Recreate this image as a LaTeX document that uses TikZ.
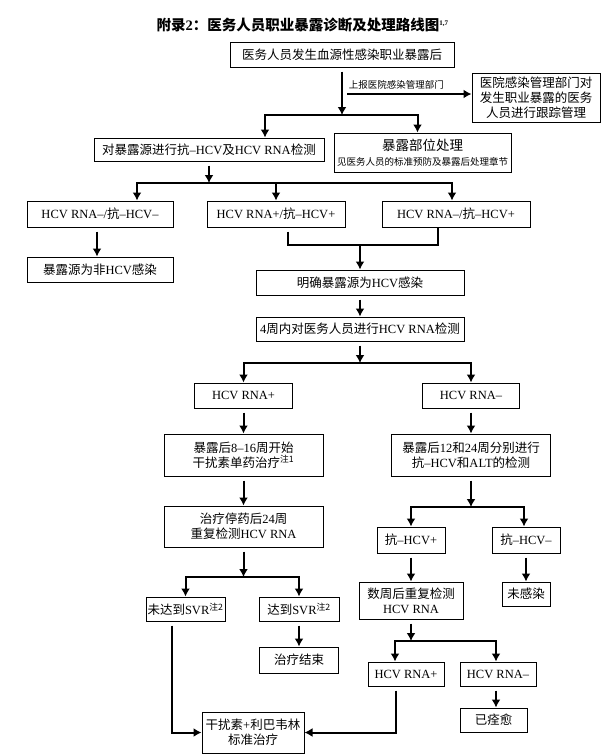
\documentclass[tikz,border=0pt]{standalone}
\usepackage{fontspec}
\setmainfont{Liberation Serif}
\newfontfamily\zh{Noto Sans CJK SC}
\usepackage{tikz}
\usetikzlibrary{arrows.meta}

\begin{document}
\begin{tikzpicture}[x=1pt,y=-1pt,>={Latex[length=8pt,width=9pt]},
    box/.style={draw,line width=1pt,align=center,inner sep=1pt,
      font=\fontsize{12.5}{15}\selectfont},
    wh/.style 2 args={minimum width=#1,minimum height=#2},
    conn/.style={->,line width=2pt},
    outof/.style={conn,shorten <=4pt},
    link/.style={line width=2pt,shorten <=4pt}]
  \useasboundingbox (0,0) rectangle (615,756);
  \node[anchor=west,font=\fontsize{14.5}{16}\selectfont\bfseries] (title) at (153,25)
    {{\zh 附录}2{\zh ：医务人员职业暴露诊断及处理路线图}{\fontsize{7}{8}\selectfont\raisebox{5pt}{1,7}}};
  % source of exposure
  \node[box,wh={224}{25}] (expo) at (342,54.5) {\zh 医务人员发生血源性感染职业暴露后};
  \node[box,wh={128}{49}] (track) at (536,97.5)
    {\zh 医院感染管理部门对\\\zh 发生职业暴露的医务\\\zh 人员进行跟踪管理};
  \node[box,wh={230}{23}] (srctest) at (209,149.5)
    {{\zh 对暴露源进行抗}–HCV{\zh 及}HCV RNA{\zh 检测}};
  \node[box,wh={177}{39}] (site) at (422.5,152.5)
    {{\fontsize{13.5}{15}\selectfont\zh 暴露部位处理}\\{\fontsize{9.5}{11}\selectfont\zh 见医务人员的标准预防及暴露后处理章节}};
  \node[box,wh={146}{26}] (neg) at (100,214) {HCV RNA–/{\zh 抗}–HCV–};
  \node[box,wh={138}{26}] (pos) at (276,214) {HCV RNA+/{\zh 抗}–HCV+};
  \node[box,wh={148}{26}] (negpos) at (456,214) {HCV RNA–/{\zh 抗}–HCV+};
  \node[box,wh={146}{25}] (nonhcv) at (100,269.5) {{\zh 暴露源为非}HCV{\zh 感染}};
  \node[box,wh={208}{25}] (hcv) at (360,282.5) {{\zh 明确暴露源为}HCV{\zh 感染}};
  \node[box,wh={208}{24}] (test4w) at (360,329) {4{\zh 周内对医务人员进行}HCV RNA{\zh 检测}};
  % health care worker
  \node[box,wh={98}{25}] (rpos) at (243.5,395.5) {HCV RNA+};
  \node[box,wh={97}{25}] (rneg) at (471,395.5) {HCV RNA–};
  \node[box,wh={159}{42}] (ifn) at (243.5,455)
    {{\zh 暴露后}8–16{\zh 周开始}\\{\zh 干扰素单药治疗}\textsuperscript{\zh 注1}};
  \node[box,wh={159}{42}] (follow) at (471,455)
    {{\zh 暴露后}12{\zh 和}24{\zh 周分别进行}\\{\zh 抗}–HCV{\zh 和}ALT{\zh 的检测}};
  \node[box,wh={159}{41}] (recheck) at (243.5,526.5)
    {{\zh 治疗停药后}24{\zh 周}\\{\zh 重复检测}HCV RNA};
  \node[box,wh={68}{26}] (apos) at (411,540) {{\zh 抗}–HCV+};
  \node[box,wh={68}{26}] (aneg) at (526,540) {{\zh 抗}–HCV–};
  \node[box,wh={79}{24}] (nosvr) at (185.5,609) {{\zh 未达到}SVR\textsuperscript{\zh 注2}};
  \node[box,wh={80}{24}] (svr) at (299,609) {{\zh 达到}SVR\textsuperscript{\zh 注2}};
  \node[box,wh={104}{37}] (weeks) at (411,600.5) {{\zh 数周后重复检测}\\HCV RNA};
  \node[box,wh={48}{24}] (noinf) at (526,594) {\zh 未感染};
  \node[box,wh={79}{26}] (endtx) at (299,660) {\zh 治疗结束};
  \node[box,wh={76}{24}] (wpos) at (406,674) {HCV RNA+};
  \node[box,wh={76}{24}] (wneg) at (498,674) {HCV RNA–};
  \node[box,wh={67}{24}] (cured) at (493.5,720) {\zh 已痊愈};
  \node[box,wh={102}{41}] (std) at (253,732.5) {{\zh 干扰素}+{\zh 利巴韦林}\\{\zh 标准治疗}};
  % branch points
  \coordinate (s1) at (342,94);
  \coordinate (b1) at (342,115);
  \coordinate (b2) at (209,183);
  \coordinate (j1) at (360,245);
  \coordinate (b3) at (360,363);
  \coordinate (b4) at (471,507);
  \coordinate (b5) at (243.5,577);
  \coordinate (b6) at (411,641);
  % connectors
  \draw[outof] (expo) -- (b1);
  \draw[conn,shorten <=5pt] (s1) -- node[above,pos=0.42,font=\fontsize{9.5}{11}\selectfont\zh] (report) {上报医院感染管理部门} (s1 -| track.west);
  \draw[conn] (b1) -| ([xshift=56pt]srctest.north);
  \draw[conn] (b1) -| ([xshift=-5pt]site.north);
  \draw[outof] (srctest) -- (b2);
  \draw[conn] (b2) -| ([xshift=37pt]neg.north);
  \draw[conn] (b2) -| ([xshift=-4pt]negpos.north);
  \draw[conn] (b2 -| pos.north) -- (pos.north);
  \draw[outof] ([xshift=-3pt]neg.south) -- ([xshift=-3pt]nonhcv.north);
  \draw[link] ([xshift=12pt]pos.south) |- (j1) -| ([xshift=-18pt]negpos.south);
  \draw[conn] (j1) -- (hcv.north);
  \draw[outof] (hcv) -- (test4w);
  \draw[outof] (test4w) -- (b3);
  \draw[conn] (b3) -| (rpos.north);
  \draw[conn] (b3) -| (rneg.north);
  \draw[outof] (rpos) -- (ifn);
  \draw[outof] (rneg) -- (follow);
  \draw[outof] (ifn) -- (recheck);
  \draw[outof] (follow) -- (b4);
  \draw[conn] (b4) -| (apos.north);
  \draw[conn] (b4) -| ([xshift=-2pt]aneg.north);
  \draw[outof] (recheck) -- (b5);
  \draw[conn] (b5) -| (nosvr.north);
  \draw[conn] (b5) -| (svr.north);
  \draw[outof] (apos) -- (weeks);
  \draw[outof] (aneg) -- (noinf);
  \draw[outof] (svr) -- (endtx);
  \draw[outof] (weeks) -- (b6);
  \draw[conn] (b6) -| ([xshift=-11pt]wpos.north);
  \draw[conn] (b6) -| ([xshift=-2pt]wneg.north);
  \draw[outof] ([xshift=-2pt]wneg.south) -- ([xshift=2.5pt]cured.north);
  \draw[outof] ([xshift=-13.5pt]nosvr.south) |- (std.west);
  \draw[outof] ([xshift=-10pt]wpos.south) |- (std.east);
\end{tikzpicture}
\end{document}
